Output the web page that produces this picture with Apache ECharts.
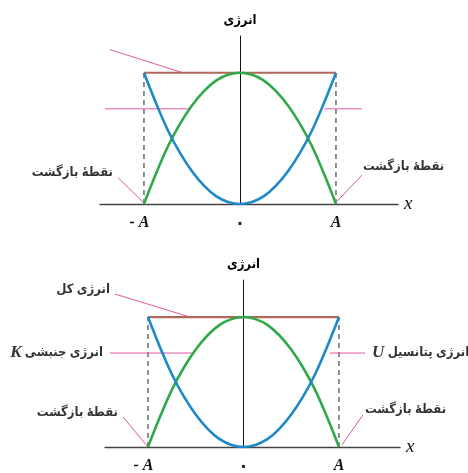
<!DOCTYPE html>
<html>
<head>
<meta charset="utf-8">
<script src="https://cdn.jsdelivr.net/npm/echarts@6/dist/echarts.min.js"></script>
<style>
  html, body { margin: 0; padding: 0; background: #fff; }
  #chart { width: 468px; height: 473px; }
</style>
</head>
<body>
<div id="chart"></div>
<script>
  // positions along x (in units of A) and energies (in units of total energy)
  const xs = [-1, -0.875, -0.75, -0.625, -0.5, -0.375, -0.25, -0.125, 0, 0.125, 0.25, 0.375, 0.5, 0.625, 0.75, 0.875, 1]
  const potential = [1, 0.77, 0.56, 0.39, 0.25, 0.14, 0.06, 0.016, 0, 0.016, 0.06, 0.14, 0.25, 0.39, 0.56, 0.77, 1]
  const kinetic = [0, 0.23, 0.44, 0.61, 0.75, 0.86, 0.94, 0.984, 1, 0.984, 0.94, 0.86, 0.75, 0.61, 0.44, 0.23, 0]
  const total = [[-1, 1], [1, 1]]
  const tickValues = [-1, 0, 1]
  const tickLabels = { '-1': '{neg|- A}', '0': '{zero|\u06F0}', '1': '{a|A}' }

  // leader lines, [from, to] in data units
  const topLeaders = [
    [[-1.354, 1.176], [-0.594, 1.0]],
    [[-1.406, 0.725], [-0.521, 0.725]],
    [[0.88, 0.725], [1.27, 0.725]],
    [[-1.27, 0.2], [-1.01, 0.015]],
    [[1.27, 0.22], [1.01, 0.02]]
  ]
  const bottomLeaders = [
    [[-1.345, 1.177], [-0.56, 1.0]],
    [[-1.398, 0.723], [-0.508, 0.723]],
    [[0.906, 0.723], [1.272, 0.723]],
    [[-1.26, 0.23], [-1.0, 0.0]],
    [[1.25, 0.246], [1.03, 0.015]]
  ]
  // word tokens listed so that they come out left to right as in the figure
  const turning = '{fa|بازگشت} {fa|نقطهٔ}'
  const topLabels = [
    [-1.323, 0.237, turning, 'left'],
    [1.281, 0.282, turning, 'right']
  ]
  const bottomLabels = [
    [-1.398, 1.208, '{fa|کل} {fa|انرژی}', 'left'],
    [-1.471, 0.723, '{m|K} {fa|جنبشی} {fa|انرژی}', 'left'],
    [1.346, 0.723, '{m|U} {fa|پتانسیل} {fa|انرژی}', 'right'],
    [-1.314, 0.262, turning, 'left'],
    [1.272, 0.285, turning, 'right']
  ]

  const faFont = '"DejaVu Sans Condensed", "DejaVu Sans", sans-serif'
  const serif = '"Liberation Serif", "DejaVu Serif", serif'

  function xAxisFor(grid, min, max) {
    const tick = { fontFamily: serif, fontStyle: 'italic', fontWeight: 'bold', fontSize: 16, color: '#111' }
    return {
      type: 'value', gridIndex: grid, min: min, max: max,
      name: 'x', nameLocation: 'end', nameGap: 6,
      nameTextStyle: { fontFamily: serif, fontStyle: 'italic', fontSize: 19, color: '#111', verticalAlign: 'middle' },
      axisLine: { onZero: true, lineStyle: { color: '#444', width: 1.3 } },
      axisTick: { show: false },
      splitLine: { show: false },
      axisLabel: {
        customValues: tickValues, margin: 11,
        formatter: v => tickLabels[String(Math.round(v))],
        rich: {
          neg: Object.assign({ padding: [0, 9, 0, 0] }, tick),
          a: tick,
          zero: { fontFamily: faFont, fontWeight: 'bold', fontSize: 18, color: '#222' }
        }
      }
    }
  }
  function yAxisFor(grid, max) {
    return {
      type: 'value', gridIndex: grid, min: 0, max: max,
      name: 'انرژی', nameLocation: 'end', nameGap: 9,
      nameTextStyle: { fontFamily: faFont, fontWeight: 'bold', fontSize: 13, color: '#000', align: 'center' },
      axisLine: { onZero: true, lineStyle: { color: '#111', width: 1 } },
      axisTick: { show: false },
      splitLine: { show: false },
      axisLabel: { show: false }
    }
  }

  function panelSeries(idx, leaders, labels) {
    const list = []
    const pts = (ys) => xs.map((x, i) => [x, ys[i]])
    list.push({ type: 'line', xAxisIndex: idx, yAxisIndex: idx, data: [[-1, 0], [-1, 1]], symbol: 'none',
      lineStyle: { color: '#222', width: 1, type: [5, 4] }, z: 1 })
    list.push({ type: 'line', xAxisIndex: idx, yAxisIndex: idx, data: [[1, 0], [1, 1]], symbol: 'none',
      lineStyle: { color: '#222', width: 1, type: [5, 4] }, z: 1 })
    leaders.forEach(l => list.push({ type: 'line', xAxisIndex: idx, yAxisIndex: idx, data: l, symbol: 'none',
      clip: false, lineStyle: { color: '#e0579f', width: 1 }, z: 2 }))
    list.push({ type: 'line', xAxisIndex: idx, yAxisIndex: idx, data: total, symbol: 'none',
      lineStyle: { color: '#b0695b', width: 2.2 }, z: 3 })
    list.push({ type: 'line', xAxisIndex: idx, yAxisIndex: idx, data: pts(kinetic), symbol: 'none', smooth: 0.4,
      lineStyle: { color: '#2eaa48', width: 2.6 }, z: 4 })
    list.push({ type: 'line', xAxisIndex: idx, yAxisIndex: idx, data: pts(potential), symbol: 'none', smooth: 0.4,
      lineStyle: { color: '#1e88c8', width: 2.6 }, z: 4 })
    labels.forEach(l => list.push({
      type: 'scatter', xAxisIndex: idx, yAxisIndex: idx, data: [[l[0], l[1]]], symbolSize: 0, clip: false,
      label: {
        show: true, position: l[3], distance: 0, formatter: l[2], color: '#000',
        rich: {
          fa: { fontFamily: faFont, fontWeight: 'bold', fontSize: 13, color: '#000' },
          m: { fontFamily: serif, fontStyle: 'italic', fontWeight: 'bold', fontSize: 17, color: '#000' }
        }
      }
    }))
    return list
  }

  const chart = echarts.init(document.getElementById('chart'), null, { renderer: 'canvas' })
  chart.setOption({
    animation: false,
    backgroundColor: '#fff',
    grid: [
      { left: 100, right: 70, top: 36, bottom: 269, outerBoundsMode: 'none' },
      { left: 105, right: 68, top: 280, bottom: 26, outerBoundsMode: 'none' }
    ],
    xAxis: [xAxisFor(0, -1.458, 1.646), xAxisFor(1, -1.45, 1.639)],
    yAxis: [yAxisFor(0, 1.28), yAxisFor(1, 1.285)],
    series: panelSeries(0, topLeaders, topLabels).concat(panelSeries(1, bottomLeaders, bottomLabels))
  })
</script>
</body>
</html>
